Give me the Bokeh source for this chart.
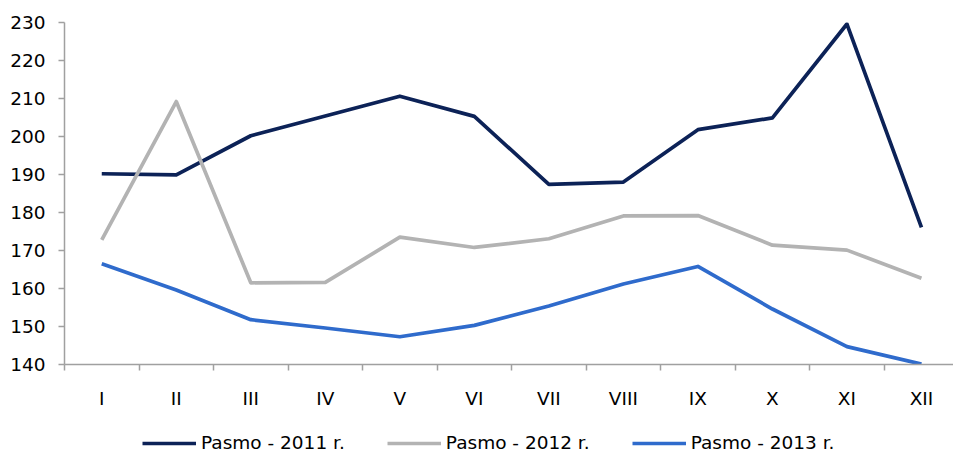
from bokeh.plotting import figure
from bokeh.models import Range1d, FixedTicker, Legend, LegendItem
from bokeh.layouts import column
from bokeh.embed import file_html
from bokeh.resources import INLINE

months = ["I", "II", "III", "IV", "V", "VI", "VII", "VIII", "IX", "X", "XI", "XII"]
pasmo_2011 = [190.2, 189.9, 200.2, 205.4, 210.6, 205.3, 187.4, 188.0, 201.8, 204.9, 229.6, 176.1]
pasmo_2012 = [172.8, 209.2, 161.5, 161.6, 173.5, 170.8, 173.1, 179.1, 179.2, 171.4, 170.1, 162.7]
pasmo_2013 = [166.5, 159.6, 151.8, 149.6, 147.3, 150.3, 155.4, 161.2, 165.8, 154.6, 144.7, 140.1]
series_names = ["Pasmo - 2011 r.", "Pasmo - 2012 r.", "Pasmo - 2013 r."]
colors = ["#0C2257", "#B3B3B3", "#2F6BCC"]
y_ticks = [140, 150, 160, 170, 180, 190, 200, 210, 220, 230]

FONT = "DejaVu Sans"
xs = [i + 0.5 for i in range(len(months))]
series = [pasmo_2011, pasmo_2012, pasmo_2013]

p = figure(width=953, height=412, output_backend="svg", toolbar_location=None,
           x_range=Range1d(0, 11.93), y_range=Range1d(140, 230),
           min_border_left=64, min_border_right=0, min_border_top=22, min_border_bottom=48)
p.outline_line_color = None
p.xgrid.grid_line_color = None
p.ygrid.grid_line_color = None

for vals, col in zip(series, colors):
    p.line(xs, vals, line_color=col, line_width=3.7, line_join="round")

# y axis
ya = p.yaxis[0]
ya.ticker = FixedTicker(ticks=y_ticks)
ya.axis_line_color = "#A0A0A0"
ya.axis_line_width = 1.5
ya.major_tick_line_color = "#A0A0A0"
ya.major_tick_line_width = 1.5
ya.major_tick_out = 6
ya.major_tick_in = 0
ya.minor_tick_line_color = None
ya.major_label_text_font = FONT
ya.major_label_text_font_size = "18.5px"
ya.major_label_text_color = "#000000"
ya.major_label_standoff = 13

# x axis
xa = p.xaxis[0]
xa.ticker = FixedTicker(ticks=xs, minor_ticks=list(range(0, 13)))
xa.major_label_overrides = {x: m for x, m in zip(xs, months)}
xa.axis_line_color = "#A0A0A0"
xa.axis_line_width = 1.5
xa.major_tick_line_color = None
xa.minor_tick_line_color = "#A0A0A0"
xa.minor_tick_line_width = 1.5
xa.minor_tick_out = 6
xa.minor_tick_in = 0
xa.major_label_text_font = FONT
xa.major_label_text_font_size = "18.5px"
xa.major_label_text_color = "#000000"
xa.major_label_standoff = 17

# legend strip: a second figure whose view range leaves the series out of sight,
# so only the legend samples and labels show
lg = figure(width=953, height=40, output_backend="svg", toolbar_location=None,
            x_axis_location=None, y_axis_location=None,
            x_range=Range1d(0, 11.93), y_range=Range1d(0, 1),
            min_border_left=0, min_border_right=0, min_border_top=0, min_border_bottom=0)
lg.outline_line_color = None
lg.xgrid.grid_line_color = None
lg.ygrid.grid_line_color = None
leg_renderers = [lg.line(xs, vals, line_color=col, line_width=3.7) for vals, col in zip(series, colors)]

legend = Legend(items=[LegendItem(label=n, renderers=[r]) for n, r in zip(series_names, leg_renderers)],
                orientation="horizontal", location=(78, -1),
                label_text_font=FONT, label_text_font_size="18.5px", label_text_color="#000000",
                glyph_width=54, label_standoff=5, spacing=42,
                border_line_color=None, background_fill_alpha=0,
                padding=0, margin=0)
lg.add_layout(legend, "center")

layout = column(p, lg, spacing=0)
open("out.html", "w").write(file_html(layout, INLINE))
